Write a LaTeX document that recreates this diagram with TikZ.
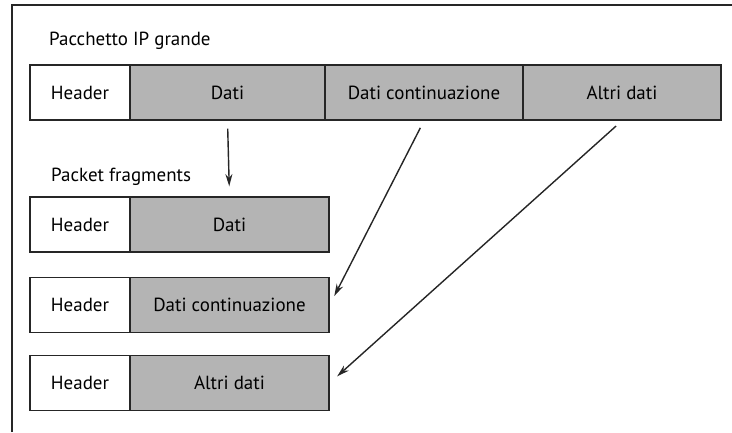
\documentclass[tikz,border=0pt]{standalone}
\usepackage{fontspec}
\setmainfont{PT Sans}
\usetikzlibrary{arrows.meta}
\definecolor{datagray}{HTML}{B4B4B4}
\tikzset{
  cell/.style={rectangle, draw=black!85, line width=0.8pt, minimum height=1.1cm, inner sep=0pt, font=\fontsize{10.8}{12}\selectfont, text=black},
  hdr/.style={cell, fill=white, minimum width=2cm},
  dat/.style={cell, fill=datagray},
  fragarrow/.style={draw=black!85, line width=0.8pt, -{Stealth[length=7pt,width=4pt]}, shorten <=0.16cm, shorten >=0.2cm}
}
\begin{document}
\begin{tikzpicture}[x=0.02cm, y=-0.02cm]
      \useasboundingbox (0,0) rectangle (732,432);
      \draw[line width=1pt, black!85] (12,432) -- (12,5) -- (732,5);
      \node[anchor=base west, font=\fontsize{10.8}{12}\selectfont, text=black] (t1) at (43,46) {Pacchetto IP grande};
      \node[anchor=base west, font=\fontsize{10.8}{12}\selectfont, text=black] (t2) at (45,181) {Packet fragments};
      % pacchetto originale
      \node[hdr] (h0) at (80,92.5) {Header};
      \node[dat, minimum width=3.9cm] (d1) at (227.5,92.5) {Dati};
      \node[dat, minimum width=3.96cm] (d2) at (424,92.5) {Dati continuazione};
      \node[dat, minimum width=3.96cm] (d3) at (622,92.5) {Altri dati};
      % frammenti
      \node[hdr] (h1) at (80,224.5) {Header};
      \node[dat, minimum width=3.98cm] (f1) at (229.5,224.5) {Dati};
      \node[hdr] (h2) at (80,305) {Header};
      \node[dat, minimum width=3.98cm] (f2) at (229.5,305) {Dati continuazione};
      \node[hdr] (h3) at (80,383) {Header};
      \node[dat, minimum width=3.98cm] (f3) at (229.5,383) {Altri dati};
      \foreach \source/\dest in {d1.south/f1.north, d2.south/f2.east, d3.south/f3.east}
        \path (\source) edge[fragarrow] (\dest);
\end{tikzpicture}
\end{document}
